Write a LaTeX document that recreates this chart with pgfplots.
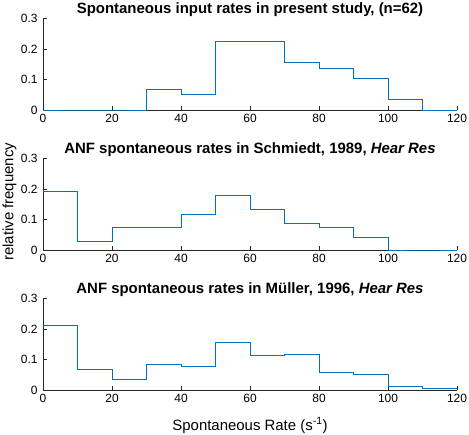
\documentclass[border=0pt]{standalone}
\usepackage{pgfplots}
\pgfplotsset{compat=1.18}
\usepackage{fontspec}
\setmainfont{Liberation Sans}
\definecolor{mblue}{RGB}{0,114,189}
\definecolor{axgray}{gray}{0.15}
\pgfplotsset{
  panel/.style={
    scale only axis,
    width=414bp, height=91.5bp,
    xmin=0, xmax=120, ymin=0, ymax=0.3,
    clip=false,
    axis x line=bottom, axis y line=left,
    axis line style={-, axgray, line width=0.5pt},
    tick align=inside,
    major tick length=4bp,
    tick style={axgray, line width=0.5pt},
    xtick={0,20,...,120},
    ytick={0,0.1,0.2,0.3},
    yticklabels={0,0.1,0.2,0.3},
    tick label style={font=\fontsize{12}{14}\selectfont, text=black},
    /pgf/number format/assume math mode=true,
    title style={font=\fontsize{15}{17}\selectfont\bfseries, at={(axis description cs:0.5,1)}, anchor=base, yshift=-0.5bp},
    xticklabel style={yshift=-1bp},
    yticklabel style={xshift=-2bp},
  },
  stair/.style={const plot mark left, mblue, line width=0.6pt, mark=none},
}
\begin{document}
\begin{tikzpicture}
\useasboundingbox (0bp,0bp) rectangle (469bp,435bp);
\begin{axis}[panel, at={(43bp,325bp)}, anchor=south west,
  title={Spontaneous input rates in present study, (n=62)}]
\addplot[stair] coordinates {
(0,0) (10,0) (20,0) (30,0.068) (40,0.0515) (50,0.2256) (60,0.2256)
(70,0.158) (80,0.138) (90,0.104) (100,0.034) (110,0) (120,0)};
\end{axis}
\begin{axis}[panel, at={(43bp,185bp)}, anchor=south west,
  title={ANF spontaneous rates in Schmiedt, 1989, \textit{Hear Res}},
  ylabel={relative frequency},
  ylabel style={font=\fontsize{15}{17}\selectfont, at={(axis description cs:-0.081,0.527)}, anchor=center, rotate=0}]
\addplot[stair] coordinates {
(0,0.193) (10,0.027) (20,0.073) (30,0.073) (40,0.118) (50,0.178) (60,0.133)
(70,0.087) (80,0.073) (90,0.043) (100,0) (110,0) (120,0)};
\end{axis}
\begin{axis}[panel, at={(43bp,45bp)}, anchor=south west,
  title={ANF spontaneous rates in M\"uller, 1996, \textit{Hear Res}},
  xlabel={Spontaneous Rate (s\textsuperscript{-1})},
  xlabel style={font=\fontsize{15}{17}\selectfont, at={(axis description cs:0.5,0)}, anchor=base, yshift=-40bp}]
\addplot[stair] coordinates {
(0,0.213) (10,0.069) (20,0.034) (30,0.085) (40,0.077) (50,0.157) (60,0.115)
(70,0.118) (80,0.058) (90,0.052) (100,0.011) (110,0.005) (120,0.005)};
\end{axis}
\end{tikzpicture}
\end{document}
